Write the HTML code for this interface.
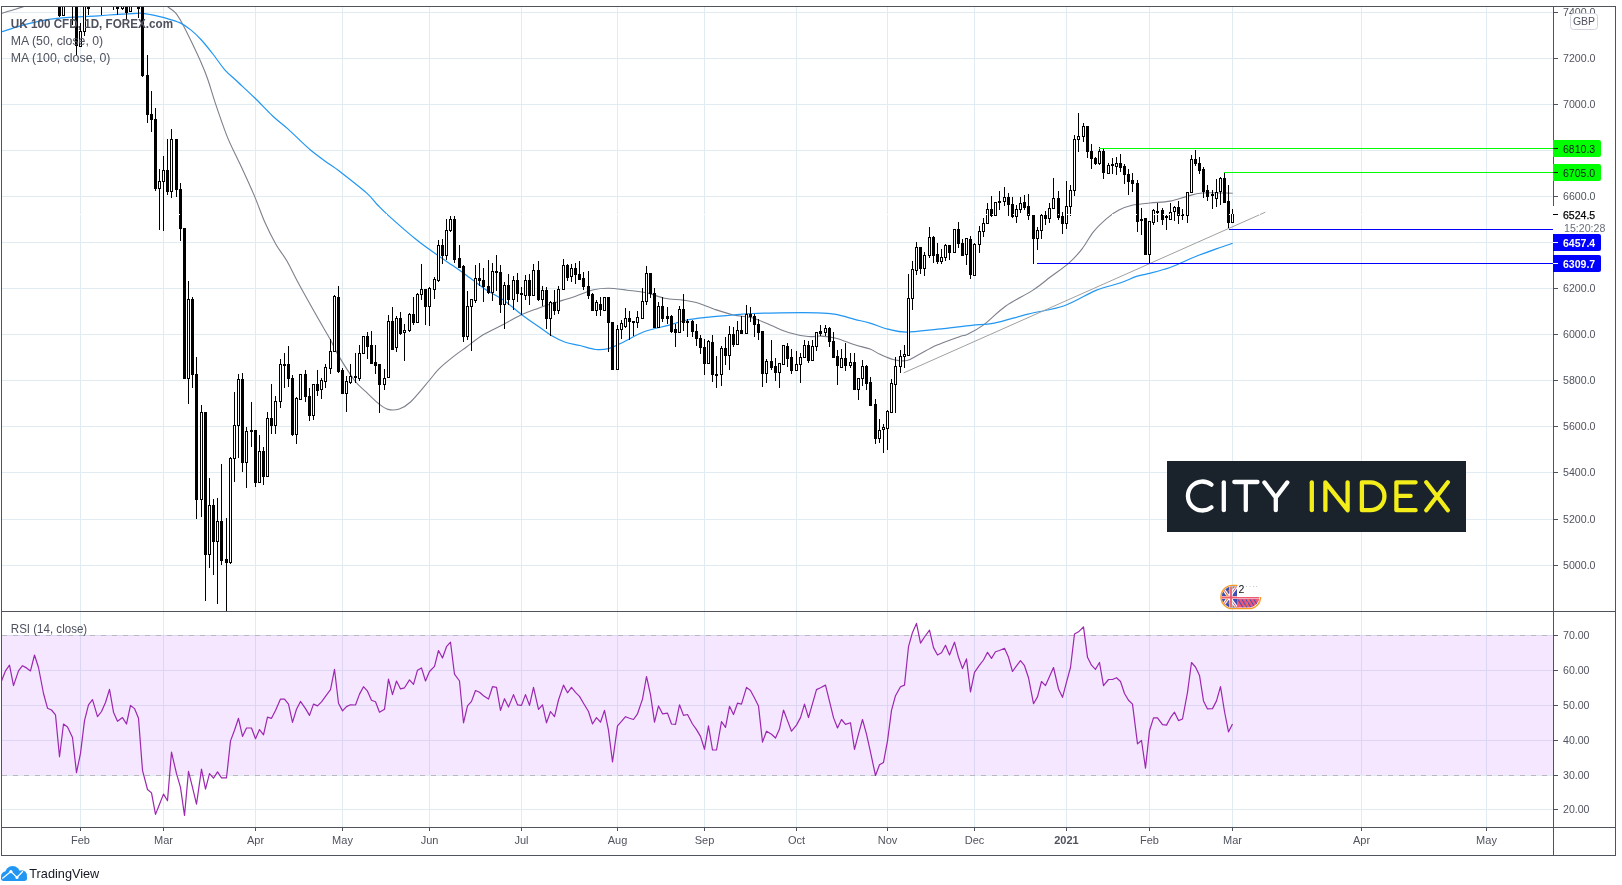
<!DOCTYPE html>
<html><head><meta charset="utf-8"><style>
html,body{margin:0;padding:0;background:#fff;width:1622px;height:885px;overflow:hidden;}
body{position:relative;font-family:"Liberation Sans", sans-serif;}
svg text{will-change:transform;}
</style></head><body>
<svg width="1622" height="885" viewBox="0 0 1622 885" style="position:absolute;left:0;top:0"><defs><clipPath id="mainclip"><rect x="2" y="7" width="1551" height="604"/></clipPath><clipPath id="rsiclip"><rect x="2" y="612" width="1551" height="215"/></clipPath></defs><rect x="0" y="0" width="1622" height="885" fill="#ffffff" /><g shape-rendering="crispEdges"><rect x="2" y="12" width="1551" height="1" fill="#e1ecf2" /><rect x="2" y="58" width="1551" height="1" fill="#e1ecf2" /><rect x="2" y="104" width="1551" height="1" fill="#e1ecf2" /><rect x="2" y="150" width="1551" height="1" fill="#e1ecf2" /><rect x="2" y="196" width="1551" height="1" fill="#e1ecf2" /><rect x="2" y="242" width="1551" height="1" fill="#e1ecf2" /><rect x="2" y="288" width="1551" height="1" fill="#e1ecf2" /><rect x="2" y="334" width="1551" height="1" fill="#e1ecf2" /><rect x="2" y="380" width="1551" height="1" fill="#e1ecf2" /><rect x="2" y="426" width="1551" height="1" fill="#e1ecf2" /><rect x="2" y="472" width="1551" height="1" fill="#e1ecf2" /><rect x="2" y="519" width="1551" height="1" fill="#e1ecf2" /><rect x="2" y="565" width="1551" height="1" fill="#e1ecf2" /><rect x="80" y="7" width="1" height="604" fill="#e1ecf2" /><rect x="163" y="7" width="1" height="604" fill="#e1ecf2" /><rect x="255" y="7" width="1" height="604" fill="#e1ecf2" /><rect x="342" y="7" width="1" height="604" fill="#e1ecf2" /><rect x="429" y="7" width="1" height="604" fill="#e1ecf2" /><rect x="521" y="7" width="1" height="604" fill="#e1ecf2" /><rect x="617" y="7" width="1" height="604" fill="#e1ecf2" /><rect x="704" y="7" width="1" height="604" fill="#e1ecf2" /><rect x="796" y="7" width="1" height="604" fill="#e1ecf2" /><rect x="887" y="7" width="1" height="604" fill="#e1ecf2" /><rect x="974" y="7" width="1" height="604" fill="#e1ecf2" /><rect x="1066" y="7" width="1" height="604" fill="#e1ecf2" /><rect x="1149" y="7" width="1" height="604" fill="#e1ecf2" /><rect x="1232" y="7" width="1" height="604" fill="#e1ecf2" /><rect x="1361" y="7" width="1" height="604" fill="#e1ecf2" /><rect x="1486" y="7" width="1" height="604" fill="#e1ecf2" /><rect x="80" y="612" width="1" height="215" fill="#e1ecf2" /><rect x="163" y="612" width="1" height="215" fill="#e1ecf2" /><rect x="255" y="612" width="1" height="215" fill="#e1ecf2" /><rect x="342" y="612" width="1" height="215" fill="#e1ecf2" /><rect x="429" y="612" width="1" height="215" fill="#e1ecf2" /><rect x="521" y="612" width="1" height="215" fill="#e1ecf2" /><rect x="617" y="612" width="1" height="215" fill="#e1ecf2" /><rect x="704" y="612" width="1" height="215" fill="#e1ecf2" /><rect x="796" y="612" width="1" height="215" fill="#e1ecf2" /><rect x="887" y="612" width="1" height="215" fill="#e1ecf2" /><rect x="974" y="612" width="1" height="215" fill="#e1ecf2" /><rect x="1066" y="612" width="1" height="215" fill="#e1ecf2" /><rect x="1149" y="612" width="1" height="215" fill="#e1ecf2" /><rect x="1232" y="612" width="1" height="215" fill="#e1ecf2" /><rect x="1361" y="612" width="1" height="215" fill="#e1ecf2" /><rect x="1486" y="612" width="1" height="215" fill="#e1ecf2" /><rect x="2" y="635" width="1551" height="1" fill="#e1ecf2" /><rect x="2" y="670" width="1551" height="1" fill="#e1ecf2" /><rect x="2" y="705" width="1551" height="1" fill="#e1ecf2" /><rect x="2" y="740" width="1551" height="1" fill="#e1ecf2" /><rect x="2" y="775" width="1551" height="1" fill="#e1ecf2" /><rect x="2" y="809" width="1551" height="1" fill="#e1ecf2" /><rect x="2" y="635" width="1551" height="140" fill="rgba(153,21,255,0.1)" /></g><line x1="2" y1="635.5" x2="1553" y2="635.5" stroke="#bab7bf" stroke-width="1" stroke-dasharray="5 6" stroke-dashoffset="-0.2" shape-rendering="crispEdges"/><line x1="2" y1="775.5" x2="1553" y2="775.5" stroke="#bab7bf" stroke-width="1" stroke-dasharray="5 6" stroke-dashoffset="-0.2" shape-rendering="crispEdges"/><g clip-path="url(#mainclip)" fill="none"><path d="M0.00,14.50 C0.33,14.30 0.00,14.02 2.00,13.30 C4.00,12.58 8.55,11.27 12.00,10.20 C15.45,9.13 20.03,7.77 22.70,6.90 C25.37,6.03 27.12,5.32 28.00,5.00" stroke="#7d808b" stroke-width="1.1"/><path d="M164.00,5.00 C164.57,5.27 165.52,5.32 167.40,6.60 C169.28,7.88 172.80,9.85 175.30,12.70 C177.80,15.55 179.77,18.97 182.40,23.70 C185.03,28.43 187.93,34.50 191.10,41.10 C194.27,47.70 198.58,56.82 201.40,63.30 C204.22,69.78 205.67,73.32 208.00,80.00 C210.33,86.68 212.30,94.22 215.40,103.40 C218.50,112.58 223.18,126.40 226.60,135.10 C230.02,143.80 233.58,150.62 235.90,155.60 C238.22,160.58 237.43,158.33 240.50,165.00 C243.57,171.67 250.20,185.97 254.30,195.60 C258.40,205.23 261.48,214.65 265.10,222.80 C268.72,230.95 272.38,238.17 276.00,244.50 C279.62,250.83 283.03,254.28 286.80,260.80 C290.57,267.32 293.52,274.22 298.60,283.60 C303.68,292.98 312.02,307.78 317.30,317.10 C322.58,326.42 326.88,333.28 330.30,339.50 C333.72,345.72 333.75,347.57 337.80,354.40 C341.85,361.23 349.93,374.28 354.60,380.50 C359.27,386.72 361.77,387.82 365.80,391.70 C369.83,395.58 375.08,400.85 378.80,403.80 C382.52,406.75 384.68,408.55 388.10,409.40 C391.52,410.25 395.57,410.13 399.30,408.90 C403.03,407.67 405.52,406.73 410.50,402.00 C415.48,397.27 424.53,385.95 429.20,380.50 C433.87,375.05 434.78,373.03 438.50,369.30 C442.22,365.57 446.83,361.82 451.50,358.10 C456.17,354.38 461.22,350.88 466.50,347.00 C471.78,343.12 476.98,338.60 483.20,334.80 C489.42,331.00 497.27,327.62 503.80,324.20 C510.33,320.78 517.12,316.78 522.40,314.30 C527.68,311.82 530.83,311.00 535.50,309.30 C540.17,307.60 543.82,306.25 550.40,304.10 C556.98,301.95 567.80,298.78 575.00,296.40 C582.20,294.02 588.00,291.15 593.60,289.80 C599.20,288.45 603.00,288.23 608.60,288.30 C614.20,288.37 620.98,289.48 627.20,290.20 C633.42,290.92 639.68,291.27 645.90,292.60 C652.12,293.93 658.30,296.95 664.50,298.20 C670.70,299.45 677.82,299.38 683.10,300.10 C688.38,300.82 690.92,300.95 696.20,302.50 C701.48,304.05 708.58,307.32 714.80,309.40 C721.02,311.48 727.28,313.60 733.50,315.00 C739.72,316.40 745.88,316.08 752.10,317.80 C758.32,319.52 764.58,322.82 770.80,325.30 C777.02,327.78 783.18,330.83 789.40,332.70 C795.62,334.57 802.82,335.93 808.10,336.50 C813.38,337.07 816.45,335.80 821.10,336.10 C825.75,336.40 830.40,336.85 836.00,338.30 C841.60,339.75 849.03,343.00 854.70,344.80 C860.37,346.60 865.78,347.52 870.00,349.10 C874.22,350.68 875.98,352.53 880.00,354.30 C884.02,356.07 889.58,358.67 894.10,359.70 C898.62,360.73 902.87,361.40 907.10,360.50 C911.33,359.60 914.60,356.83 919.50,354.30 C924.40,351.77 929.75,348.27 936.50,345.30 C943.25,342.33 954.90,338.32 960.00,336.50 C965.10,334.68 963.28,336.25 967.10,334.40 C970.92,332.55 976.50,330.10 982.90,325.40 C989.30,320.70 997.22,312.03 1005.50,306.20 C1013.78,300.37 1025.07,295.30 1032.60,290.40 C1040.13,285.50 1044.67,281.33 1050.70,276.80 C1056.73,272.27 1063.53,267.90 1068.80,263.20 C1074.07,258.50 1078.17,253.87 1082.30,248.60 C1086.43,243.33 1089.45,236.68 1093.60,231.60 C1097.75,226.52 1103.05,221.67 1107.20,218.10 C1111.35,214.53 1114.35,212.33 1118.50,210.20 C1122.65,208.07 1126.85,206.50 1132.10,205.30 C1137.35,204.10 1143.68,203.70 1150.00,203.00 C1156.32,202.30 1163.83,202.20 1170.00,201.10 C1176.17,200.00 1181.67,197.75 1187.00,196.40 C1192.33,195.05 1194.38,193.53 1202.00,193.00 C1209.62,192.47 1227.58,193.17 1232.70,193.20" stroke="#7d808b" stroke-width="1.1"/><path d="M0.00,32.00 C0.33,31.93 -1.28,32.58 2.00,31.60 C5.28,30.62 13.45,27.83 19.70,26.10 C25.95,24.37 32.92,22.52 39.50,21.20 C46.08,19.88 52.63,18.93 59.20,18.20 C65.77,17.47 72.33,17.20 78.90,16.80 C85.47,16.40 92.02,16.22 98.60,15.80 C105.18,15.38 111.98,14.72 118.40,14.30 C124.82,13.88 133.00,13.47 137.10,13.30 C141.20,13.13 140.85,13.10 143.00,13.30 C145.15,13.50 146.20,13.68 150.00,14.50 C153.80,15.32 160.78,16.80 165.80,18.20 C170.82,19.60 175.88,20.92 180.10,22.90 C184.32,24.88 187.55,27.25 191.10,30.10 C194.65,32.95 197.70,35.93 201.40,40.00 C205.10,44.07 209.40,49.53 213.30,54.50 C217.20,59.47 220.72,65.22 224.80,69.80 C228.88,74.38 232.83,77.33 237.80,82.00 C242.77,86.67 248.70,92.05 254.60,97.80 C260.50,103.55 267.62,111.28 273.20,116.50 C278.78,121.72 281.88,123.52 288.10,129.10 C294.32,134.68 303.65,144.18 310.50,150.00 C317.35,155.82 324.53,160.58 329.20,164.00 C333.87,167.42 332.28,165.68 338.50,170.50 C344.72,175.32 359.98,187.15 366.50,192.90 C373.02,198.65 373.93,201.22 377.60,205.00 C381.27,208.78 382.02,209.80 388.50,215.60 C394.98,221.40 408.42,233.27 416.50,239.80 C424.58,246.33 431.10,250.60 437.00,254.80 C442.90,259.00 447.62,262.07 451.90,265.00 C456.18,267.93 457.17,268.37 462.70,272.40 C468.23,276.43 478.25,284.55 485.10,289.20 C491.95,293.85 497.58,295.95 503.80,300.30 C510.02,304.65 516.20,310.63 522.40,315.30 C528.60,319.97 536.03,324.83 541.00,328.30 C545.97,331.77 548.15,333.77 552.20,336.10 C556.25,338.43 560.67,340.73 565.30,342.30 C569.93,343.87 574.97,344.30 580.00,345.50 C585.03,346.70 590.73,348.98 595.50,349.50 C600.27,350.02 604.25,349.68 608.60,348.60 C612.95,347.52 615.70,345.80 621.60,343.00 C627.50,340.20 636.23,334.75 644.00,331.80 C651.77,328.85 661.05,327.27 668.20,325.30 C675.35,323.33 680.68,321.32 686.90,320.00 C693.12,318.68 697.73,318.23 705.50,317.40 C713.27,316.57 725.73,315.65 733.50,315.00 C741.27,314.35 744.33,313.87 752.10,313.50 C759.87,313.13 769.22,312.92 780.10,312.80 C790.98,312.68 808.08,312.53 817.40,312.80 C826.72,313.07 829.78,313.32 836.00,314.40 C842.22,315.48 849.03,317.85 854.70,319.30 C860.37,320.75 864.43,321.45 870.00,323.10 C875.57,324.75 882.08,327.70 888.10,329.20 C894.12,330.70 897.82,332.10 906.10,332.10 C914.38,332.10 926.88,330.32 937.80,329.20 C948.72,328.08 962.20,326.42 971.60,325.40 C981.00,324.38 984.78,324.98 994.20,323.10 C1003.62,321.22 1016.42,317.00 1028.10,314.10 C1039.78,311.20 1053.00,309.65 1064.30,305.70 C1075.60,301.75 1086.62,294.18 1095.90,290.40 C1105.18,286.62 1113.23,285.33 1120.00,283.00 C1126.77,280.67 1131.83,277.95 1136.50,276.40 C1141.17,274.85 1142.42,275.18 1148.00,273.70 C1153.58,272.22 1162.25,270.28 1170.00,267.50 C1177.75,264.72 1186.68,260.15 1194.50,257.00 C1202.32,253.85 1210.53,250.88 1216.90,248.60 C1223.27,246.32 1230.07,244.18 1232.70,243.30" stroke="#2196f3" stroke-width="1.2"/></g><g clip-path="url(#mainclip)" shape-rendering="crispEdges"><rect x="59" y="15" width="1" height="2" fill="#000" /><rect x="58" y="0" width="3" height="16" fill="#000" /><rect x="62" y="0" width="3" height="16" fill="#000" /><rect x="63" y="1" width="1" height="14" fill="#fff" /><rect x="72" y="3" width="1" height="22" fill="#000" /><rect x="71" y="0" width="3" height="4" fill="#000" /><rect x="76" y="45" width="1" height="10" fill="#000" /><rect x="75" y="0" width="3" height="46" fill="#000" /><rect x="80" y="23" width="1" height="8" fill="#000" /><rect x="80" y="46" width="1" height="1" fill="#000" /><rect x="79" y="31" width="3" height="16" fill="#000" /><rect x="80" y="32" width="1" height="14" fill="#fff" /><rect x="84" y="31" width="1" height="5" fill="#000" /><rect x="83" y="0" width="3" height="32" fill="#000" /><rect x="84" y="1" width="1" height="30" fill="#fff" /><rect x="88" y="8" width="1" height="7" fill="#000" /><rect x="87" y="0" width="3" height="9" fill="#000" /><rect x="101" y="3" width="1" height="12" fill="#000" /><rect x="100" y="0" width="3" height="4" fill="#000" /><rect x="101" y="1" width="1" height="2" fill="#fff" /><rect x="113" y="3" width="1" height="7" fill="#000" /><rect x="112" y="0" width="3" height="4" fill="#000" /><rect x="113" y="1" width="1" height="2" fill="#fff" /><rect x="117" y="8" width="1" height="7" fill="#000" /><rect x="116" y="0" width="3" height="9" fill="#000" /><rect x="122" y="8" width="1" height="2" fill="#000" /><rect x="121" y="0" width="3" height="9" fill="#000" /><rect x="122" y="1" width="1" height="7" fill="#fff" /><rect x="126" y="12" width="1" height="7" fill="#000" /><rect x="125" y="0" width="3" height="13" fill="#000" /><rect x="129" y="0" width="3" height="12" fill="#000" /><rect x="130" y="1" width="1" height="10" fill="#fff" /><rect x="138" y="8" width="1" height="10" fill="#000" /><rect x="137" y="0" width="3" height="9" fill="#000" /><rect x="142" y="75" width="1" height="2" fill="#000" /><rect x="141" y="0" width="3" height="76" fill="#000" /><rect x="147" y="55" width="1" height="20" fill="#000" /><rect x="147" y="114" width="1" height="9" fill="#000" /><rect x="146" y="75" width="3" height="40" fill="#000" /><rect x="151" y="91" width="1" height="23" fill="#000" /><rect x="151" y="119" width="1" height="13" fill="#000" /><rect x="150" y="114" width="3" height="6" fill="#000" /><rect x="155" y="108" width="1" height="11" fill="#000" /><rect x="155" y="188" width="1" height="3" fill="#000" /><rect x="154" y="119" width="3" height="70" fill="#000" /><rect x="159" y="169" width="1" height="12" fill="#000" /><rect x="159" y="188" width="1" height="42" fill="#000" /><rect x="158" y="181" width="3" height="8" fill="#000" /><rect x="159" y="182" width="1" height="6" fill="#fff" /><rect x="163" y="156" width="1" height="14" fill="#000" /><rect x="163" y="181" width="1" height="50" fill="#000" /><rect x="162" y="170" width="3" height="12" fill="#000" /><rect x="163" y="171" width="1" height="10" fill="#fff" /><rect x="167" y="139" width="1" height="31" fill="#000" /><rect x="167" y="191" width="1" height="4" fill="#000" /><rect x="166" y="170" width="3" height="22" fill="#000" /><rect x="171" y="129" width="1" height="10" fill="#000" /><rect x="171" y="191" width="1" height="7" fill="#000" /><rect x="170" y="139" width="3" height="53" fill="#000" /><rect x="171" y="140" width="1" height="51" fill="#fff" /><rect x="176" y="189" width="1" height="8" fill="#000" /><rect x="175" y="139" width="3" height="51" fill="#000" /><rect x="180" y="183" width="1" height="6" fill="#000" /><rect x="180" y="228" width="1" height="13" fill="#000" /><rect x="179" y="189" width="3" height="40" fill="#000" /><rect x="184" y="378" width="1" height="1" fill="#000" /><rect x="183" y="228" width="3" height="151" fill="#000" /><rect x="188" y="281" width="1" height="18" fill="#000" /><rect x="188" y="378" width="1" height="26" fill="#000" /><rect x="187" y="299" width="3" height="80" fill="#000" /><rect x="188" y="300" width="1" height="78" fill="#fff" /><rect x="192" y="297" width="1" height="2" fill="#000" /><rect x="192" y="374" width="1" height="14" fill="#000" /><rect x="191" y="299" width="3" height="76" fill="#000" /><rect x="196" y="357" width="1" height="17" fill="#000" /><rect x="196" y="499" width="1" height="20" fill="#000" /><rect x="195" y="374" width="3" height="126" fill="#000" /><rect x="201" y="405" width="1" height="7" fill="#000" /><rect x="201" y="499" width="1" height="18" fill="#000" /><rect x="200" y="412" width="3" height="88" fill="#000" /><rect x="201" y="413" width="1" height="86" fill="#fff" /><rect x="205" y="554" width="1" height="47" fill="#000" /><rect x="204" y="412" width="3" height="143" fill="#000" /><rect x="209" y="478" width="1" height="27" fill="#000" /><rect x="209" y="554" width="1" height="14" fill="#000" /><rect x="208" y="505" width="3" height="50" fill="#000" /><rect x="209" y="506" width="1" height="48" fill="#fff" /><rect x="213" y="499" width="1" height="6" fill="#000" /><rect x="213" y="541" width="1" height="34" fill="#000" /><rect x="212" y="505" width="3" height="37" fill="#000" /><rect x="217" y="498" width="1" height="23" fill="#000" /><rect x="217" y="541" width="1" height="63" fill="#000" /><rect x="216" y="521" width="3" height="21" fill="#000" /><rect x="217" y="522" width="1" height="19" fill="#fff" /><rect x="221" y="464" width="1" height="57" fill="#000" /><rect x="221" y="560" width="1" height="5" fill="#000" /><rect x="220" y="521" width="3" height="40" fill="#000" /><rect x="226" y="518" width="1" height="41" fill="#000" /><rect x="226" y="562" width="1" height="49" fill="#000" /><rect x="225" y="559" width="3" height="4" fill="#000" /><rect x="230" y="457" width="1" height="1" fill="#000" /><rect x="230" y="562" width="1" height="2" fill="#000" /><rect x="229" y="458" width="3" height="105" fill="#000" /><rect x="230" y="459" width="1" height="103" fill="#fff" /><rect x="234" y="392" width="1" height="33" fill="#000" /><rect x="234" y="458" width="1" height="24" fill="#000" /><rect x="233" y="425" width="3" height="34" fill="#000" /><rect x="234" y="426" width="1" height="32" fill="#fff" /><rect x="238" y="374" width="1" height="5" fill="#000" /><rect x="238" y="425" width="1" height="33" fill="#000" /><rect x="237" y="379" width="3" height="47" fill="#000" /><rect x="238" y="380" width="1" height="45" fill="#fff" /><rect x="242" y="373" width="1" height="6" fill="#000" /><rect x="242" y="462" width="1" height="10" fill="#000" /><rect x="241" y="379" width="3" height="84" fill="#000" /><rect x="246" y="427" width="1" height="4" fill="#000" /><rect x="246" y="462" width="1" height="26" fill="#000" /><rect x="245" y="431" width="3" height="32" fill="#000" /><rect x="246" y="432" width="1" height="30" fill="#fff" /><rect x="251" y="402" width="1" height="28" fill="#000" /><rect x="251" y="431" width="1" height="16" fill="#000" /><rect x="250" y="430" width="3" height="2" fill="#000" /><rect x="255" y="482" width="1" height="5" fill="#000" /><rect x="254" y="430" width="3" height="53" fill="#000" /><rect x="259" y="435" width="1" height="16" fill="#000" /><rect x="258" y="451" width="3" height="32" fill="#000" /><rect x="259" y="452" width="1" height="30" fill="#fff" /><rect x="263" y="447" width="1" height="4" fill="#000" /><rect x="263" y="476" width="1" height="9" fill="#000" /><rect x="262" y="451" width="3" height="26" fill="#000" /><rect x="267" y="412" width="1" height="6" fill="#000" /><rect x="266" y="418" width="3" height="59" fill="#000" /><rect x="267" y="419" width="1" height="57" fill="#fff" /><rect x="271" y="384" width="1" height="34" fill="#000" /><rect x="271" y="425" width="1" height="9" fill="#000" /><rect x="270" y="418" width="3" height="8" fill="#000" /><rect x="275" y="396" width="1" height="5" fill="#000" /><rect x="275" y="425" width="1" height="9" fill="#000" /><rect x="274" y="401" width="3" height="25" fill="#000" /><rect x="275" y="402" width="1" height="23" fill="#fff" /><rect x="280" y="359" width="1" height="5" fill="#000" /><rect x="280" y="401" width="1" height="7" fill="#000" /><rect x="279" y="364" width="3" height="38" fill="#000" /><rect x="280" y="365" width="1" height="36" fill="#fff" /><rect x="284" y="353" width="1" height="11" fill="#000" /><rect x="284" y="365" width="1" height="23" fill="#000" /><rect x="283" y="364" width="3" height="2" fill="#000" /><rect x="288" y="346" width="1" height="18" fill="#000" /><rect x="288" y="378" width="1" height="9" fill="#000" /><rect x="287" y="364" width="3" height="15" fill="#000" /><rect x="292" y="375" width="1" height="3" fill="#000" /><rect x="292" y="434" width="1" height="2" fill="#000" /><rect x="291" y="378" width="3" height="57" fill="#000" /><rect x="296" y="397" width="1" height="1" fill="#000" /><rect x="296" y="434" width="1" height="10" fill="#000" /><rect x="295" y="398" width="3" height="37" fill="#000" /><rect x="296" y="399" width="1" height="35" fill="#fff" /><rect x="299" y="374" width="3" height="26" fill="#000" /><rect x="300" y="375" width="1" height="24" fill="#fff" /><rect x="305" y="370" width="1" height="4" fill="#000" /><rect x="305" y="396" width="1" height="6" fill="#000" /><rect x="304" y="374" width="3" height="23" fill="#000" /><rect x="309" y="388" width="1" height="8" fill="#000" /><rect x="309" y="415" width="1" height="6" fill="#000" /><rect x="308" y="396" width="3" height="20" fill="#000" /><rect x="313" y="415" width="1" height="5" fill="#000" /><rect x="312" y="384" width="3" height="32" fill="#000" /><rect x="313" y="385" width="1" height="30" fill="#fff" /><rect x="317" y="370" width="1" height="14" fill="#000" /><rect x="317" y="390" width="1" height="6" fill="#000" /><rect x="316" y="384" width="3" height="7" fill="#000" /><rect x="321" y="378" width="1" height="2" fill="#000" /><rect x="321" y="389" width="1" height="10" fill="#000" /><rect x="320" y="380" width="3" height="10" fill="#000" /><rect x="321" y="381" width="1" height="8" fill="#fff" /><rect x="325" y="364" width="1" height="3" fill="#000" /><rect x="325" y="381" width="1" height="7" fill="#000" /><rect x="324" y="367" width="3" height="15" fill="#000" /><rect x="325" y="368" width="1" height="13" fill="#fff" /><rect x="330" y="339" width="1" height="12" fill="#000" /><rect x="330" y="368" width="1" height="6" fill="#000" /><rect x="329" y="351" width="3" height="18" fill="#000" /><rect x="330" y="352" width="1" height="16" fill="#fff" /><rect x="334" y="295" width="1" height="1" fill="#000" /><rect x="333" y="296" width="3" height="56" fill="#000" /><rect x="334" y="297" width="1" height="54" fill="#fff" /><rect x="338" y="286" width="1" height="11" fill="#000" /><rect x="338" y="371" width="1" height="2" fill="#000" /><rect x="337" y="297" width="3" height="75" fill="#000" /><rect x="342" y="368" width="1" height="2" fill="#000" /><rect x="342" y="393" width="1" height="1" fill="#000" /><rect x="341" y="370" width="3" height="24" fill="#000" /><rect x="346" y="376" width="1" height="5" fill="#000" /><rect x="346" y="393" width="1" height="19" fill="#000" /><rect x="345" y="381" width="3" height="13" fill="#000" /><rect x="346" y="382" width="1" height="11" fill="#fff" /><rect x="350" y="364" width="1" height="12" fill="#000" /><rect x="350" y="382" width="1" height="2" fill="#000" /><rect x="349" y="376" width="3" height="7" fill="#000" /><rect x="350" y="377" width="1" height="5" fill="#fff" /><rect x="355" y="353" width="1" height="23" fill="#000" /><rect x="355" y="377" width="1" height="6" fill="#000" /><rect x="354" y="376" width="3" height="2" fill="#000" /><rect x="359" y="345" width="1" height="8" fill="#000" /><rect x="359" y="378" width="1" height="3" fill="#000" /><rect x="358" y="353" width="3" height="26" fill="#000" /><rect x="359" y="354" width="1" height="24" fill="#fff" /><rect x="363" y="353" width="1" height="1" fill="#000" /><rect x="362" y="336" width="3" height="18" fill="#000" /><rect x="363" y="337" width="1" height="16" fill="#fff" /><rect x="367" y="332" width="1" height="4" fill="#000" /><rect x="367" y="346" width="1" height="13" fill="#000" /><rect x="366" y="336" width="3" height="11" fill="#000" /><rect x="371" y="331" width="1" height="14" fill="#000" /><rect x="370" y="345" width="3" height="19" fill="#000" /><rect x="375" y="345" width="1" height="17" fill="#000" /><rect x="375" y="365" width="1" height="9" fill="#000" /><rect x="374" y="362" width="3" height="4" fill="#000" /><rect x="379" y="384" width="1" height="29" fill="#000" /><rect x="378" y="364" width="3" height="21" fill="#000" /><rect x="384" y="369" width="1" height="9" fill="#000" /><rect x="384" y="384" width="1" height="6" fill="#000" /><rect x="383" y="378" width="3" height="7" fill="#000" /><rect x="384" y="379" width="1" height="5" fill="#fff" /><rect x="388" y="315" width="1" height="6" fill="#000" /><rect x="387" y="321" width="3" height="57" fill="#000" /><rect x="388" y="322" width="1" height="55" fill="#fff" /><rect x="392" y="307" width="1" height="14" fill="#000" /><rect x="392" y="349" width="1" height="1" fill="#000" /><rect x="391" y="321" width="3" height="29" fill="#000" /><rect x="396" y="316" width="1" height="2" fill="#000" /><rect x="396" y="347" width="1" height="5" fill="#000" /><rect x="395" y="318" width="3" height="30" fill="#000" /><rect x="396" y="319" width="1" height="28" fill="#fff" /><rect x="400" y="312" width="1" height="6" fill="#000" /><rect x="400" y="333" width="1" height="2" fill="#000" /><rect x="399" y="318" width="3" height="16" fill="#000" /><rect x="404" y="324" width="1" height="6" fill="#000" /><rect x="404" y="332" width="1" height="29" fill="#000" /><rect x="403" y="330" width="3" height="3" fill="#000" /><rect x="404" y="331" width="1" height="1" fill="#fff" /><rect x="409" y="313" width="1" height="1" fill="#000" /><rect x="409" y="330" width="1" height="2" fill="#000" /><rect x="408" y="314" width="3" height="17" fill="#000" /><rect x="409" y="315" width="1" height="15" fill="#fff" /><rect x="413" y="297" width="1" height="17" fill="#000" /><rect x="413" y="322" width="1" height="3" fill="#000" /><rect x="412" y="314" width="3" height="9" fill="#000" /><rect x="417" y="293" width="1" height="1" fill="#000" /><rect x="417" y="322" width="1" height="1" fill="#000" /><rect x="416" y="294" width="3" height="29" fill="#000" /><rect x="417" y="295" width="1" height="27" fill="#fff" /><rect x="421" y="264" width="1" height="25" fill="#000" /><rect x="421" y="294" width="1" height="6" fill="#000" /><rect x="420" y="289" width="3" height="6" fill="#000" /><rect x="421" y="290" width="1" height="4" fill="#fff" /><rect x="425" y="306" width="1" height="19" fill="#000" /><rect x="424" y="289" width="3" height="18" fill="#000" /><rect x="429" y="287" width="1" height="1" fill="#000" /><rect x="429" y="306" width="1" height="20" fill="#000" /><rect x="428" y="288" width="3" height="19" fill="#000" /><rect x="429" y="289" width="1" height="17" fill="#fff" /><rect x="434" y="277" width="1" height="2" fill="#000" /><rect x="434" y="289" width="1" height="10" fill="#000" /><rect x="433" y="279" width="3" height="11" fill="#000" /><rect x="434" y="280" width="1" height="9" fill="#fff" /><rect x="438" y="240" width="1" height="5" fill="#000" /><rect x="438" y="280" width="1" height="2" fill="#000" /><rect x="437" y="245" width="3" height="36" fill="#000" /><rect x="438" y="246" width="1" height="34" fill="#fff" /><rect x="442" y="239" width="1" height="6" fill="#000" /><rect x="442" y="255" width="1" height="9" fill="#000" /><rect x="441" y="245" width="3" height="11" fill="#000" /><rect x="446" y="219" width="1" height="11" fill="#000" /><rect x="446" y="255" width="1" height="5" fill="#000" /><rect x="445" y="230" width="3" height="26" fill="#000" /><rect x="446" y="231" width="1" height="24" fill="#fff" /><rect x="450" y="216" width="1" height="3" fill="#000" /><rect x="450" y="230" width="1" height="2" fill="#000" /><rect x="449" y="219" width="3" height="12" fill="#000" /><rect x="450" y="220" width="1" height="10" fill="#fff" /><rect x="454" y="216" width="1" height="3" fill="#000" /><rect x="454" y="259" width="1" height="4" fill="#000" /><rect x="453" y="219" width="3" height="41" fill="#000" /><rect x="459" y="245" width="1" height="13" fill="#000" /><rect x="459" y="267" width="1" height="1" fill="#000" /><rect x="458" y="258" width="3" height="10" fill="#000" /><rect x="463" y="265" width="1" height="1" fill="#000" /><rect x="463" y="336" width="1" height="6" fill="#000" /><rect x="462" y="266" width="3" height="71" fill="#000" /><rect x="467" y="291" width="1" height="15" fill="#000" /><rect x="467" y="336" width="1" height="4" fill="#000" /><rect x="466" y="306" width="3" height="31" fill="#000" /><rect x="467" y="307" width="1" height="29" fill="#fff" /><rect x="471" y="306" width="1" height="45" fill="#000" /><rect x="470" y="299" width="3" height="8" fill="#000" /><rect x="471" y="300" width="1" height="6" fill="#fff" /><rect x="475" y="265" width="1" height="13" fill="#000" /><rect x="475" y="300" width="1" height="3" fill="#000" /><rect x="474" y="278" width="3" height="23" fill="#000" /><rect x="475" y="279" width="1" height="21" fill="#fff" /><rect x="479" y="263" width="1" height="15" fill="#000" /><rect x="479" y="280" width="1" height="6" fill="#000" /><rect x="478" y="278" width="3" height="3" fill="#000" /><rect x="483" y="268" width="1" height="12" fill="#000" /><rect x="483" y="286" width="1" height="16" fill="#000" /><rect x="482" y="280" width="3" height="7" fill="#000" /><rect x="488" y="260" width="1" height="26" fill="#000" /><rect x="488" y="292" width="1" height="2" fill="#000" /><rect x="487" y="286" width="3" height="7" fill="#000" /><rect x="492" y="263" width="1" height="8" fill="#000" /><rect x="492" y="292" width="1" height="9" fill="#000" /><rect x="491" y="271" width="3" height="22" fill="#000" /><rect x="492" y="272" width="1" height="20" fill="#fff" /><rect x="496" y="255" width="1" height="16" fill="#000" /><rect x="496" y="272" width="1" height="19" fill="#000" /><rect x="495" y="271" width="3" height="2" fill="#000" /><rect x="500" y="265" width="1" height="7" fill="#000" /><rect x="500" y="304" width="1" height="9" fill="#000" /><rect x="499" y="272" width="3" height="33" fill="#000" /><rect x="504" y="282" width="1" height="3" fill="#000" /><rect x="504" y="304" width="1" height="25" fill="#000" /><rect x="503" y="285" width="3" height="20" fill="#000" /><rect x="504" y="286" width="1" height="18" fill="#fff" /><rect x="508" y="274" width="1" height="11" fill="#000" /><rect x="508" y="299" width="1" height="6" fill="#000" /><rect x="507" y="285" width="3" height="15" fill="#000" /><rect x="513" y="276" width="1" height="4" fill="#000" /><rect x="513" y="299" width="1" height="11" fill="#000" /><rect x="512" y="280" width="3" height="20" fill="#000" /><rect x="513" y="281" width="1" height="18" fill="#fff" /><rect x="517" y="273" width="1" height="7" fill="#000" /><rect x="517" y="293" width="1" height="9" fill="#000" /><rect x="516" y="280" width="3" height="14" fill="#000" /><rect x="521" y="287" width="1" height="6" fill="#000" /><rect x="521" y="294" width="1" height="21" fill="#000" /><rect x="520" y="293" width="3" height="2" fill="#000" /><rect x="525" y="275" width="1" height="5" fill="#000" /><rect x="525" y="295" width="1" height="5" fill="#000" /><rect x="524" y="280" width="3" height="16" fill="#000" /><rect x="525" y="281" width="1" height="14" fill="#fff" /><rect x="529" y="274" width="1" height="6" fill="#000" /><rect x="529" y="295" width="1" height="10" fill="#000" /><rect x="528" y="280" width="3" height="16" fill="#000" /><rect x="533" y="264" width="1" height="6" fill="#000" /><rect x="532" y="270" width="3" height="26" fill="#000" /><rect x="533" y="271" width="1" height="24" fill="#fff" /><rect x="538" y="261" width="1" height="9" fill="#000" /><rect x="538" y="299" width="1" height="2" fill="#000" /><rect x="537" y="270" width="3" height="30" fill="#000" /><rect x="542" y="286" width="1" height="4" fill="#000" /><rect x="542" y="299" width="1" height="7" fill="#000" /><rect x="541" y="290" width="3" height="10" fill="#000" /><rect x="542" y="291" width="1" height="8" fill="#fff" /><rect x="546" y="287" width="1" height="3" fill="#000" /><rect x="546" y="318" width="1" height="11" fill="#000" /><rect x="545" y="290" width="3" height="29" fill="#000" /><rect x="550" y="301" width="1" height="1" fill="#000" /><rect x="550" y="318" width="1" height="18" fill="#000" /><rect x="549" y="302" width="3" height="17" fill="#000" /><rect x="550" y="303" width="1" height="15" fill="#fff" /><rect x="554" y="290" width="1" height="12" fill="#000" /><rect x="554" y="310" width="1" height="5" fill="#000" /><rect x="553" y="302" width="3" height="9" fill="#000" /><rect x="558" y="286" width="1" height="3" fill="#000" /><rect x="558" y="310" width="1" height="4" fill="#000" /><rect x="557" y="289" width="3" height="22" fill="#000" /><rect x="558" y="290" width="1" height="20" fill="#fff" /><rect x="563" y="259" width="1" height="6" fill="#000" /><rect x="563" y="289" width="1" height="1" fill="#000" /><rect x="562" y="265" width="3" height="25" fill="#000" /><rect x="563" y="266" width="1" height="23" fill="#fff" /><rect x="567" y="264" width="1" height="1" fill="#000" /><rect x="567" y="277" width="1" height="4" fill="#000" /><rect x="566" y="265" width="3" height="13" fill="#000" /><rect x="571" y="264" width="1" height="4" fill="#000" /><rect x="571" y="276" width="1" height="6" fill="#000" /><rect x="570" y="268" width="3" height="9" fill="#000" /><rect x="571" y="269" width="1" height="7" fill="#fff" /><rect x="575" y="263" width="1" height="5" fill="#000" /><rect x="575" y="274" width="1" height="10" fill="#000" /><rect x="574" y="268" width="3" height="7" fill="#000" /><rect x="579" y="261" width="1" height="13" fill="#000" /><rect x="579" y="279" width="1" height="1" fill="#000" /><rect x="578" y="274" width="3" height="6" fill="#000" /><rect x="583" y="272" width="1" height="6" fill="#000" /><rect x="583" y="286" width="1" height="4" fill="#000" /><rect x="582" y="278" width="3" height="9" fill="#000" /><rect x="588" y="271" width="1" height="15" fill="#000" /><rect x="588" y="295" width="1" height="4" fill="#000" /><rect x="587" y="286" width="3" height="10" fill="#000" /><rect x="592" y="293" width="1" height="1" fill="#000" /><rect x="592" y="310" width="1" height="1" fill="#000" /><rect x="591" y="294" width="3" height="17" fill="#000" /><rect x="596" y="300" width="1" height="2" fill="#000" /><rect x="596" y="310" width="1" height="6" fill="#000" /><rect x="595" y="302" width="3" height="9" fill="#000" /><rect x="596" y="303" width="1" height="7" fill="#fff" /><rect x="600" y="297" width="1" height="7" fill="#000" /><rect x="600" y="309" width="1" height="7" fill="#000" /><rect x="599" y="304" width="3" height="6" fill="#000" /><rect x="603" y="297" width="3" height="14" fill="#000" /><rect x="604" y="298" width="1" height="12" fill="#fff" /><rect x="608" y="322" width="1" height="30" fill="#000" /><rect x="607" y="297" width="3" height="26" fill="#000" /><rect x="611" y="322" width="3" height="48" fill="#000" /><rect x="617" y="325" width="1" height="4" fill="#000" /><rect x="616" y="329" width="3" height="41" fill="#000" /><rect x="617" y="330" width="1" height="39" fill="#fff" /><rect x="621" y="320" width="1" height="3" fill="#000" /><rect x="621" y="329" width="1" height="10" fill="#000" /><rect x="620" y="323" width="3" height="7" fill="#000" /><rect x="621" y="324" width="1" height="5" fill="#fff" /><rect x="625" y="308" width="1" height="10" fill="#000" /><rect x="625" y="326" width="1" height="2" fill="#000" /><rect x="624" y="318" width="3" height="9" fill="#000" /><rect x="625" y="319" width="1" height="7" fill="#fff" /><rect x="629" y="311" width="1" height="7" fill="#000" /><rect x="629" y="321" width="1" height="19" fill="#000" /><rect x="628" y="318" width="3" height="4" fill="#000" /><rect x="633" y="322" width="1" height="14" fill="#000" /><rect x="632" y="321" width="3" height="2" fill="#000" /><rect x="637" y="311" width="1" height="6" fill="#000" /><rect x="637" y="322" width="1" height="6" fill="#000" /><rect x="636" y="317" width="3" height="6" fill="#000" /><rect x="637" y="318" width="1" height="4" fill="#fff" /><rect x="642" y="288" width="1" height="13" fill="#000" /><rect x="642" y="318" width="1" height="1" fill="#000" /><rect x="641" y="301" width="3" height="18" fill="#000" /><rect x="642" y="302" width="1" height="16" fill="#fff" /><rect x="646" y="266" width="1" height="7" fill="#000" /><rect x="646" y="301" width="1" height="4" fill="#000" /><rect x="645" y="273" width="3" height="29" fill="#000" /><rect x="646" y="274" width="1" height="27" fill="#fff" /><rect x="650" y="293" width="1" height="5" fill="#000" /><rect x="649" y="273" width="3" height="21" fill="#000" /><rect x="654" y="288" width="1" height="5" fill="#000" /><rect x="653" y="293" width="3" height="35" fill="#000" /><rect x="658" y="302" width="1" height="4" fill="#000" /><rect x="657" y="306" width="3" height="22" fill="#000" /><rect x="658" y="307" width="1" height="20" fill="#fff" /><rect x="662" y="297" width="1" height="9" fill="#000" /><rect x="662" y="318" width="1" height="4" fill="#000" /><rect x="661" y="306" width="3" height="13" fill="#000" /><rect x="667" y="307" width="1" height="9" fill="#000" /><rect x="667" y="318" width="1" height="6" fill="#000" /><rect x="666" y="316" width="3" height="3" fill="#000" /><rect x="671" y="315" width="1" height="1" fill="#000" /><rect x="671" y="331" width="1" height="2" fill="#000" /><rect x="670" y="316" width="3" height="16" fill="#000" /><rect x="675" y="324" width="1" height="5" fill="#000" /><rect x="675" y="332" width="1" height="15" fill="#000" /><rect x="674" y="329" width="3" height="4" fill="#000" /><rect x="679" y="306" width="1" height="3" fill="#000" /><rect x="679" y="332" width="1" height="1" fill="#000" /><rect x="678" y="309" width="3" height="24" fill="#000" /><rect x="679" y="310" width="1" height="22" fill="#fff" /><rect x="683" y="294" width="1" height="15" fill="#000" /><rect x="683" y="322" width="1" height="9" fill="#000" /><rect x="682" y="309" width="3" height="14" fill="#000" /><rect x="687" y="319" width="1" height="2" fill="#000" /><rect x="687" y="322" width="1" height="15" fill="#000" /><rect x="686" y="321" width="3" height="2" fill="#000" /><rect x="692" y="320" width="1" height="1" fill="#000" /><rect x="692" y="331" width="1" height="6" fill="#000" /><rect x="691" y="321" width="3" height="11" fill="#000" /><rect x="696" y="324" width="1" height="7" fill="#000" /><rect x="696" y="338" width="1" height="8" fill="#000" /><rect x="695" y="331" width="3" height="8" fill="#000" /><rect x="700" y="335" width="1" height="3" fill="#000" /><rect x="700" y="347" width="1" height="7" fill="#000" /><rect x="699" y="338" width="3" height="10" fill="#000" /><rect x="704" y="339" width="1" height="8" fill="#000" /><rect x="704" y="363" width="1" height="12" fill="#000" /><rect x="703" y="347" width="3" height="17" fill="#000" /><rect x="708" y="340" width="1" height="1" fill="#000" /><rect x="708" y="363" width="1" height="1" fill="#000" /><rect x="707" y="341" width="3" height="23" fill="#000" /><rect x="708" y="342" width="1" height="21" fill="#fff" /><rect x="712" y="335" width="1" height="7" fill="#000" /><rect x="712" y="374" width="1" height="8" fill="#000" /><rect x="711" y="342" width="3" height="33" fill="#000" /><rect x="716" y="356" width="1" height="18" fill="#000" /><rect x="716" y="375" width="1" height="13" fill="#000" /><rect x="715" y="374" width="3" height="2" fill="#000" /><rect x="721" y="346" width="1" height="2" fill="#000" /><rect x="721" y="374" width="1" height="12" fill="#000" /><rect x="720" y="348" width="3" height="27" fill="#000" /><rect x="721" y="349" width="1" height="25" fill="#fff" /><rect x="725" y="337" width="1" height="11" fill="#000" /><rect x="725" y="355" width="1" height="10" fill="#000" /><rect x="724" y="348" width="3" height="8" fill="#000" /><rect x="729" y="326" width="1" height="8" fill="#000" /><rect x="729" y="355" width="1" height="15" fill="#000" /><rect x="728" y="334" width="3" height="22" fill="#000" /><rect x="729" y="335" width="1" height="20" fill="#fff" /><rect x="733" y="327" width="1" height="7" fill="#000" /><rect x="733" y="344" width="1" height="3" fill="#000" /><rect x="732" y="334" width="3" height="11" fill="#000" /><rect x="737" y="321" width="1" height="9" fill="#000" /><rect x="736" y="330" width="3" height="15" fill="#000" /><rect x="737" y="331" width="1" height="13" fill="#fff" /><rect x="741" y="316" width="1" height="14" fill="#000" /><rect x="740" y="330" width="3" height="4" fill="#000" /><rect x="746" y="305" width="1" height="9" fill="#000" /><rect x="745" y="314" width="3" height="20" fill="#000" /><rect x="746" y="315" width="1" height="18" fill="#fff" /><rect x="750" y="307" width="1" height="7" fill="#000" /><rect x="750" y="316" width="1" height="6" fill="#000" /><rect x="749" y="314" width="3" height="3" fill="#000" /><rect x="754" y="314" width="1" height="2" fill="#000" /><rect x="754" y="324" width="1" height="13" fill="#000" /><rect x="753" y="316" width="3" height="9" fill="#000" /><rect x="758" y="319" width="1" height="5" fill="#000" /><rect x="758" y="332" width="1" height="8" fill="#000" /><rect x="757" y="324" width="3" height="9" fill="#000" /><rect x="762" y="373" width="1" height="14" fill="#000" /><rect x="761" y="331" width="3" height="43" fill="#000" /><rect x="766" y="359" width="1" height="2" fill="#000" /><rect x="766" y="373" width="1" height="10" fill="#000" /><rect x="765" y="361" width="3" height="13" fill="#000" /><rect x="766" y="362" width="1" height="11" fill="#fff" /><rect x="771" y="340" width="1" height="21" fill="#000" /><rect x="771" y="367" width="1" height="3" fill="#000" /><rect x="770" y="361" width="3" height="7" fill="#000" /><rect x="775" y="358" width="1" height="8" fill="#000" /><rect x="775" y="372" width="1" height="9" fill="#000" /><rect x="774" y="366" width="3" height="7" fill="#000" /><rect x="779" y="372" width="1" height="16" fill="#000" /><rect x="778" y="363" width="3" height="10" fill="#000" /><rect x="779" y="364" width="1" height="8" fill="#fff" /><rect x="782" y="345" width="3" height="20" fill="#000" /><rect x="783" y="346" width="1" height="18" fill="#fff" /><rect x="787" y="343" width="1" height="3" fill="#000" /><rect x="787" y="358" width="1" height="9" fill="#000" /><rect x="786" y="346" width="3" height="13" fill="#000" /><rect x="791" y="349" width="1" height="8" fill="#000" /><rect x="791" y="370" width="1" height="4" fill="#000" /><rect x="790" y="357" width="3" height="14" fill="#000" /><rect x="796" y="351" width="1" height="13" fill="#000" /><rect x="795" y="364" width="3" height="7" fill="#000" /><rect x="796" y="365" width="1" height="5" fill="#fff" /><rect x="800" y="353" width="1" height="4" fill="#000" /><rect x="800" y="364" width="1" height="19" fill="#000" /><rect x="799" y="357" width="3" height="8" fill="#000" /><rect x="800" y="358" width="1" height="6" fill="#fff" /><rect x="804" y="340" width="1" height="5" fill="#000" /><rect x="803" y="345" width="3" height="13" fill="#000" /><rect x="804" y="346" width="1" height="11" fill="#fff" /><rect x="808" y="341" width="1" height="4" fill="#000" /><rect x="808" y="360" width="1" height="3" fill="#000" /><rect x="807" y="345" width="3" height="16" fill="#000" /><rect x="812" y="340" width="1" height="6" fill="#000" /><rect x="811" y="346" width="3" height="15" fill="#000" /><rect x="812" y="347" width="1" height="13" fill="#fff" /><rect x="816" y="346" width="1" height="5" fill="#000" /><rect x="815" y="332" width="3" height="15" fill="#000" /><rect x="816" y="333" width="1" height="13" fill="#fff" /><rect x="820" y="325" width="1" height="6" fill="#000" /><rect x="820" y="333" width="1" height="3" fill="#000" /><rect x="819" y="331" width="3" height="3" fill="#000" /><rect x="825" y="325" width="1" height="3" fill="#000" /><rect x="825" y="332" width="1" height="4" fill="#000" /><rect x="824" y="328" width="3" height="5" fill="#000" /><rect x="825" y="329" width="1" height="3" fill="#fff" /><rect x="829" y="327" width="1" height="1" fill="#000" /><rect x="829" y="341" width="1" height="6" fill="#000" /><rect x="828" y="328" width="3" height="14" fill="#000" /><rect x="833" y="332" width="1" height="9" fill="#000" /><rect x="832" y="341" width="3" height="17" fill="#000" /><rect x="837" y="350" width="1" height="6" fill="#000" /><rect x="837" y="365" width="1" height="20" fill="#000" /><rect x="836" y="356" width="3" height="10" fill="#000" /><rect x="841" y="349" width="1" height="9" fill="#000" /><rect x="840" y="358" width="3" height="10" fill="#000" /><rect x="841" y="359" width="1" height="8" fill="#fff" /><rect x="845" y="343" width="1" height="15" fill="#000" /><rect x="845" y="365" width="1" height="6" fill="#000" /><rect x="844" y="358" width="3" height="8" fill="#000" /><rect x="850" y="353" width="1" height="9" fill="#000" /><rect x="850" y="365" width="1" height="3" fill="#000" /><rect x="849" y="362" width="3" height="4" fill="#000" /><rect x="850" y="363" width="1" height="2" fill="#fff" /><rect x="854" y="353" width="1" height="9" fill="#000" /><rect x="854" y="389" width="1" height="1" fill="#000" /><rect x="853" y="362" width="3" height="28" fill="#000" /><rect x="858" y="389" width="1" height="11" fill="#000" /><rect x="857" y="378" width="3" height="12" fill="#000" /><rect x="858" y="379" width="1" height="10" fill="#fff" /><rect x="862" y="360" width="1" height="6" fill="#000" /><rect x="862" y="378" width="1" height="8" fill="#000" /><rect x="861" y="366" width="3" height="13" fill="#000" /><rect x="862" y="367" width="1" height="11" fill="#fff" /><rect x="866" y="365" width="1" height="1" fill="#000" /><rect x="866" y="383" width="1" height="7" fill="#000" /><rect x="865" y="366" width="3" height="18" fill="#000" /><rect x="870" y="377" width="1" height="5" fill="#000" /><rect x="870" y="405" width="1" height="1" fill="#000" /><rect x="869" y="382" width="3" height="24" fill="#000" /><rect x="875" y="399" width="1" height="5" fill="#000" /><rect x="875" y="438" width="1" height="6" fill="#000" /><rect x="874" y="404" width="3" height="35" fill="#000" /><rect x="879" y="419" width="1" height="11" fill="#000" /><rect x="879" y="438" width="1" height="5" fill="#000" /><rect x="878" y="430" width="3" height="9" fill="#000" /><rect x="879" y="431" width="1" height="7" fill="#fff" /><rect x="883" y="424" width="1" height="3" fill="#000" /><rect x="883" y="429" width="1" height="24" fill="#000" /><rect x="882" y="427" width="3" height="3" fill="#000" /><rect x="883" y="428" width="1" height="1" fill="#fff" /><rect x="887" y="410" width="1" height="1" fill="#000" /><rect x="887" y="428" width="1" height="22" fill="#000" /><rect x="886" y="411" width="3" height="18" fill="#000" /><rect x="887" y="412" width="1" height="16" fill="#fff" /><rect x="891" y="379" width="1" height="4" fill="#000" /><rect x="891" y="412" width="1" height="1" fill="#000" /><rect x="890" y="383" width="3" height="30" fill="#000" /><rect x="891" y="384" width="1" height="28" fill="#fff" /><rect x="895" y="357" width="1" height="9" fill="#000" /><rect x="895" y="384" width="1" height="29" fill="#000" /><rect x="894" y="366" width="3" height="19" fill="#000" /><rect x="895" y="367" width="1" height="17" fill="#fff" /><rect x="900" y="350" width="1" height="6" fill="#000" /><rect x="900" y="366" width="1" height="7" fill="#000" /><rect x="899" y="356" width="3" height="11" fill="#000" /><rect x="900" y="357" width="1" height="9" fill="#fff" /><rect x="904" y="345" width="1" height="9" fill="#000" /><rect x="904" y="356" width="1" height="12" fill="#000" /><rect x="903" y="354" width="3" height="3" fill="#000" /><rect x="904" y="355" width="1" height="1" fill="#fff" /><rect x="908" y="274" width="1" height="24" fill="#000" /><rect x="907" y="298" width="3" height="58" fill="#000" /><rect x="908" y="299" width="1" height="56" fill="#fff" /><rect x="912" y="261" width="1" height="8" fill="#000" /><rect x="912" y="298" width="1" height="12" fill="#000" /><rect x="911" y="269" width="3" height="30" fill="#000" /><rect x="912" y="270" width="1" height="28" fill="#fff" /><rect x="916" y="242" width="1" height="5" fill="#000" /><rect x="916" y="270" width="1" height="5" fill="#000" /><rect x="915" y="247" width="3" height="24" fill="#000" /><rect x="916" y="248" width="1" height="22" fill="#fff" /><rect x="920" y="268" width="1" height="6" fill="#000" /><rect x="919" y="247" width="3" height="22" fill="#000" /><rect x="924" y="252" width="1" height="3" fill="#000" /><rect x="924" y="268" width="1" height="8" fill="#000" /><rect x="923" y="255" width="3" height="14" fill="#000" /><rect x="924" y="256" width="1" height="12" fill="#fff" /><rect x="929" y="227" width="1" height="10" fill="#000" /><rect x="929" y="255" width="1" height="3" fill="#000" /><rect x="928" y="237" width="3" height="19" fill="#000" /><rect x="929" y="238" width="1" height="17" fill="#fff" /><rect x="933" y="236" width="1" height="1" fill="#000" /><rect x="933" y="255" width="1" height="8" fill="#000" /><rect x="932" y="237" width="3" height="19" fill="#000" /><rect x="937" y="243" width="1" height="11" fill="#000" /><rect x="937" y="261" width="1" height="3" fill="#000" /><rect x="936" y="254" width="3" height="8" fill="#000" /><rect x="941" y="249" width="1" height="8" fill="#000" /><rect x="941" y="261" width="1" height="3" fill="#000" /><rect x="940" y="257" width="3" height="5" fill="#000" /><rect x="941" y="258" width="1" height="3" fill="#fff" /><rect x="945" y="244" width="1" height="1" fill="#000" /><rect x="945" y="257" width="1" height="4" fill="#000" /><rect x="944" y="245" width="3" height="13" fill="#000" /><rect x="945" y="246" width="1" height="11" fill="#fff" /><rect x="949" y="252" width="1" height="8" fill="#000" /><rect x="948" y="245" width="3" height="8" fill="#000" /><rect x="953" y="229" width="3" height="24" fill="#000" /><rect x="954" y="230" width="1" height="22" fill="#fff" /><rect x="958" y="222" width="1" height="7" fill="#000" /><rect x="958" y="243" width="1" height="5" fill="#000" /><rect x="957" y="229" width="3" height="15" fill="#000" /><rect x="962" y="239" width="1" height="4" fill="#000" /><rect x="962" y="255" width="1" height="1" fill="#000" /><rect x="961" y="243" width="3" height="13" fill="#000" /><rect x="966" y="254" width="1" height="11" fill="#000" /><rect x="965" y="238" width="3" height="17" fill="#000" /><rect x="966" y="239" width="1" height="15" fill="#fff" /><rect x="970" y="236" width="1" height="3" fill="#000" /><rect x="970" y="274" width="1" height="5" fill="#000" /><rect x="969" y="239" width="3" height="36" fill="#000" /><rect x="974" y="243" width="1" height="1" fill="#000" /><rect x="974" y="275" width="1" height="1" fill="#000" /><rect x="973" y="244" width="3" height="32" fill="#000" /><rect x="974" y="245" width="1" height="30" fill="#fff" /><rect x="979" y="226" width="1" height="5" fill="#000" /><rect x="979" y="244" width="1" height="9" fill="#000" /><rect x="978" y="231" width="3" height="14" fill="#000" /><rect x="979" y="232" width="1" height="12" fill="#fff" /><rect x="983" y="218" width="1" height="5" fill="#000" /><rect x="983" y="231" width="1" height="6" fill="#000" /><rect x="982" y="223" width="3" height="9" fill="#000" /><rect x="983" y="224" width="1" height="7" fill="#fff" /><rect x="987" y="203" width="1" height="6" fill="#000" /><rect x="987" y="223" width="1" height="1" fill="#000" /><rect x="986" y="209" width="3" height="15" fill="#000" /><rect x="987" y="210" width="1" height="13" fill="#fff" /><rect x="991" y="196" width="1" height="13" fill="#000" /><rect x="991" y="215" width="1" height="2" fill="#000" /><rect x="990" y="209" width="3" height="7" fill="#000" /><rect x="995" y="215" width="1" height="1" fill="#000" /><rect x="994" y="202" width="3" height="14" fill="#000" /><rect x="995" y="203" width="1" height="12" fill="#fff" /><rect x="999" y="191" width="1" height="10" fill="#000" /><rect x="999" y="202" width="1" height="8" fill="#000" /><rect x="998" y="201" width="3" height="2" fill="#000" /><rect x="1004" y="187" width="1" height="10" fill="#000" /><rect x="1004" y="201" width="1" height="5" fill="#000" /><rect x="1003" y="197" width="3" height="5" fill="#000" /><rect x="1004" y="198" width="1" height="3" fill="#fff" /><rect x="1008" y="193" width="1" height="4" fill="#000" /><rect x="1008" y="204" width="1" height="12" fill="#000" /><rect x="1007" y="197" width="3" height="8" fill="#000" /><rect x="1012" y="197" width="1" height="7" fill="#000" /><rect x="1012" y="216" width="1" height="2" fill="#000" /><rect x="1011" y="204" width="3" height="13" fill="#000" /><rect x="1016" y="205" width="1" height="4" fill="#000" /><rect x="1016" y="216" width="1" height="7" fill="#000" /><rect x="1015" y="209" width="3" height="8" fill="#000" /><rect x="1016" y="210" width="1" height="6" fill="#fff" /><rect x="1020" y="197" width="1" height="6" fill="#000" /><rect x="1020" y="209" width="1" height="4" fill="#000" /><rect x="1019" y="203" width="3" height="7" fill="#000" /><rect x="1020" y="204" width="1" height="5" fill="#fff" /><rect x="1024" y="195" width="1" height="7" fill="#000" /><rect x="1024" y="207" width="1" height="3" fill="#000" /><rect x="1023" y="202" width="3" height="6" fill="#000" /><rect x="1028" y="194" width="1" height="12" fill="#000" /><rect x="1028" y="215" width="1" height="5" fill="#000" /><rect x="1027" y="206" width="3" height="10" fill="#000" /><rect x="1033" y="238" width="1" height="26" fill="#000" /><rect x="1032" y="215" width="3" height="24" fill="#000" /><rect x="1037" y="227" width="1" height="3" fill="#000" /><rect x="1037" y="238" width="1" height="12" fill="#000" /><rect x="1036" y="230" width="3" height="9" fill="#000" /><rect x="1037" y="231" width="1" height="7" fill="#fff" /><rect x="1041" y="214" width="1" height="1" fill="#000" /><rect x="1041" y="230" width="1" height="9" fill="#000" /><rect x="1040" y="215" width="3" height="16" fill="#000" /><rect x="1041" y="216" width="1" height="14" fill="#fff" /><rect x="1045" y="211" width="1" height="4" fill="#000" /><rect x="1045" y="218" width="1" height="7" fill="#000" /><rect x="1044" y="215" width="3" height="4" fill="#000" /><rect x="1049" y="203" width="1" height="5" fill="#000" /><rect x="1049" y="218" width="1" height="5" fill="#000" /><rect x="1048" y="208" width="3" height="11" fill="#000" /><rect x="1049" y="209" width="1" height="9" fill="#fff" /><rect x="1053" y="178" width="1" height="20" fill="#000" /><rect x="1052" y="198" width="3" height="11" fill="#000" /><rect x="1053" y="199" width="1" height="9" fill="#fff" /><rect x="1058" y="191" width="1" height="7" fill="#000" /><rect x="1058" y="217" width="1" height="3" fill="#000" /><rect x="1057" y="198" width="3" height="20" fill="#000" /><rect x="1062" y="212" width="1" height="4" fill="#000" /><rect x="1062" y="223" width="1" height="11" fill="#000" /><rect x="1061" y="216" width="3" height="8" fill="#000" /><rect x="1066" y="181" width="1" height="25" fill="#000" /><rect x="1066" y="223" width="1" height="6" fill="#000" /><rect x="1065" y="206" width="3" height="18" fill="#000" /><rect x="1066" y="207" width="1" height="16" fill="#fff" /><rect x="1070" y="185" width="1" height="5" fill="#000" /><rect x="1070" y="206" width="1" height="10" fill="#000" /><rect x="1069" y="190" width="3" height="17" fill="#000" /><rect x="1070" y="191" width="1" height="15" fill="#fff" /><rect x="1074" y="135" width="1" height="4" fill="#000" /><rect x="1074" y="190" width="1" height="6" fill="#000" /><rect x="1073" y="139" width="3" height="52" fill="#000" /><rect x="1074" y="140" width="1" height="50" fill="#fff" /><rect x="1078" y="113" width="1" height="23" fill="#000" /><rect x="1078" y="139" width="1" height="13" fill="#000" /><rect x="1077" y="136" width="3" height="4" fill="#000" /><rect x="1078" y="137" width="1" height="2" fill="#fff" /><rect x="1083" y="123" width="1" height="3" fill="#000" /><rect x="1083" y="136" width="1" height="6" fill="#000" /><rect x="1082" y="126" width="3" height="11" fill="#000" /><rect x="1083" y="127" width="1" height="9" fill="#fff" /><rect x="1087" y="151" width="1" height="7" fill="#000" /><rect x="1086" y="126" width="3" height="26" fill="#000" /><rect x="1091" y="144" width="1" height="7" fill="#000" /><rect x="1091" y="158" width="1" height="11" fill="#000" /><rect x="1090" y="151" width="3" height="8" fill="#000" /><rect x="1095" y="157" width="1" height="1" fill="#000" /><rect x="1095" y="163" width="1" height="2" fill="#000" /><rect x="1094" y="158" width="3" height="6" fill="#000" /><rect x="1099" y="147" width="1" height="4" fill="#000" /><rect x="1099" y="163" width="1" height="2" fill="#000" /><rect x="1098" y="151" width="3" height="13" fill="#000" /><rect x="1099" y="152" width="1" height="11" fill="#fff" /><rect x="1103" y="149" width="1" height="2" fill="#000" /><rect x="1103" y="172" width="1" height="7" fill="#000" /><rect x="1102" y="151" width="3" height="22" fill="#000" /><rect x="1108" y="163" width="1" height="2" fill="#000" /><rect x="1108" y="173" width="1" height="1" fill="#000" /><rect x="1107" y="165" width="3" height="9" fill="#000" /><rect x="1108" y="166" width="1" height="7" fill="#fff" /><rect x="1112" y="158" width="1" height="6" fill="#000" /><rect x="1112" y="165" width="1" height="9" fill="#000" /><rect x="1111" y="164" width="3" height="2" fill="#000" /><rect x="1116" y="157" width="1" height="6" fill="#000" /><rect x="1116" y="166" width="1" height="9" fill="#000" /><rect x="1115" y="163" width="3" height="4" fill="#000" /><rect x="1116" y="164" width="1" height="2" fill="#fff" /><rect x="1120" y="154" width="1" height="9" fill="#000" /><rect x="1120" y="167" width="1" height="5" fill="#000" /><rect x="1119" y="163" width="3" height="5" fill="#000" /><rect x="1124" y="164" width="1" height="2" fill="#000" /><rect x="1124" y="174" width="1" height="10" fill="#000" /><rect x="1123" y="166" width="3" height="9" fill="#000" /><rect x="1128" y="169" width="1" height="5" fill="#000" /><rect x="1128" y="181" width="1" height="14" fill="#000" /><rect x="1127" y="174" width="3" height="8" fill="#000" /><rect x="1132" y="173" width="1" height="7" fill="#000" /><rect x="1132" y="183" width="1" height="9" fill="#000" /><rect x="1131" y="180" width="3" height="4" fill="#000" /><rect x="1137" y="180" width="1" height="3" fill="#000" /><rect x="1137" y="221" width="1" height="11" fill="#000" /><rect x="1136" y="183" width="3" height="39" fill="#000" /><rect x="1141" y="208" width="1" height="11" fill="#000" /><rect x="1141" y="220" width="1" height="15" fill="#000" /><rect x="1140" y="219" width="3" height="2" fill="#000" /><rect x="1144" y="218" width="3" height="37" fill="#000" /><rect x="1149" y="254" width="1" height="10" fill="#000" /><rect x="1148" y="221" width="3" height="34" fill="#000" /><rect x="1149" y="222" width="1" height="32" fill="#fff" /><rect x="1153" y="209" width="1" height="1" fill="#000" /><rect x="1153" y="222" width="1" height="3" fill="#000" /><rect x="1152" y="210" width="3" height="13" fill="#000" /><rect x="1153" y="211" width="1" height="11" fill="#fff" /><rect x="1157" y="203" width="1" height="8" fill="#000" /><rect x="1157" y="212" width="1" height="10" fill="#000" /><rect x="1156" y="211" width="3" height="2" fill="#000" /><rect x="1162" y="208" width="1" height="2" fill="#000" /><rect x="1162" y="219" width="1" height="6" fill="#000" /><rect x="1161" y="210" width="3" height="10" fill="#000" /><rect x="1166" y="215" width="1" height="1" fill="#000" /><rect x="1166" y="217" width="1" height="13" fill="#000" /><rect x="1165" y="216" width="3" height="2" fill="#000" /><rect x="1170" y="203" width="1" height="9" fill="#000" /><rect x="1170" y="219" width="1" height="1" fill="#000" /><rect x="1169" y="212" width="3" height="8" fill="#000" /><rect x="1170" y="213" width="1" height="6" fill="#fff" /><rect x="1174" y="206" width="1" height="1" fill="#000" /><rect x="1174" y="211" width="1" height="10" fill="#000" /><rect x="1173" y="207" width="3" height="5" fill="#000" /><rect x="1174" y="208" width="1" height="3" fill="#fff" /><rect x="1178" y="201" width="1" height="6" fill="#000" /><rect x="1178" y="215" width="1" height="9" fill="#000" /><rect x="1177" y="207" width="3" height="9" fill="#000" /><rect x="1182" y="209" width="1" height="5" fill="#000" /><rect x="1182" y="215" width="1" height="5" fill="#000" /><rect x="1181" y="214" width="3" height="2" fill="#000" /><rect x="1187" y="215" width="1" height="8" fill="#000" /><rect x="1186" y="192" width="3" height="24" fill="#000" /><rect x="1187" y="193" width="1" height="22" fill="#fff" /><rect x="1191" y="155" width="1" height="4" fill="#000" /><rect x="1190" y="159" width="3" height="34" fill="#000" /><rect x="1191" y="160" width="1" height="32" fill="#fff" /><rect x="1195" y="150" width="1" height="9" fill="#000" /><rect x="1195" y="163" width="1" height="3" fill="#000" /><rect x="1194" y="159" width="3" height="5" fill="#000" /><rect x="1199" y="157" width="1" height="6" fill="#000" /><rect x="1199" y="170" width="1" height="4" fill="#000" /><rect x="1198" y="163" width="3" height="8" fill="#000" /><rect x="1203" y="167" width="1" height="2" fill="#000" /><rect x="1203" y="191" width="1" height="7" fill="#000" /><rect x="1202" y="169" width="3" height="23" fill="#000" /><rect x="1207" y="185" width="1" height="5" fill="#000" /><rect x="1207" y="196" width="1" height="5" fill="#000" /><rect x="1206" y="190" width="3" height="7" fill="#000" /><rect x="1212" y="190" width="1" height="4" fill="#000" /><rect x="1212" y="195" width="1" height="14" fill="#000" /><rect x="1211" y="194" width="3" height="2" fill="#000" /><rect x="1216" y="179" width="1" height="13" fill="#000" /><rect x="1216" y="198" width="1" height="9" fill="#000" /><rect x="1215" y="192" width="3" height="7" fill="#000" /><rect x="1216" y="193" width="1" height="5" fill="#fff" /><rect x="1220" y="177" width="1" height="1" fill="#000" /><rect x="1220" y="191" width="1" height="14" fill="#000" /><rect x="1219" y="178" width="3" height="14" fill="#000" /><rect x="1220" y="179" width="1" height="12" fill="#fff" /><rect x="1224" y="173" width="1" height="5" fill="#000" /><rect x="1224" y="202" width="1" height="1" fill="#000" /><rect x="1223" y="178" width="3" height="25" fill="#000" /><rect x="1228" y="185" width="1" height="16" fill="#000" /><rect x="1228" y="222" width="1" height="6" fill="#000" /><rect x="1227" y="201" width="3" height="22" fill="#000" /><rect x="1232" y="209" width="1" height="5" fill="#000" /><rect x="1231" y="214" width="3" height="9" fill="#000" /><rect x="1232" y="215" width="1" height="7" fill="#fff" /></g><g clip-path="url(#mainclip)" fill="none"><line x1="903.7" y1="372.9" x2="1265.3" y2="212.2" stroke="#a0a0a0" stroke-width="1"/></g><line x1="2" y1="214.5" x2="1553" y2="214.5" stroke="#fff" stroke-width="1" stroke-dasharray="1 2" shape-rendering="crispEdges"/><g shape-rendering="crispEdges"><rect x="1099" y="148" width="454" height="1" fill="#00ff00" /><rect x="1224" y="172" width="329" height="1" fill="#00ff00" /><rect x="1229" y="229" width="324" height="1" fill="#0000ff" /><rect x="1037" y="263" width="516" height="1" fill="#0000ff" /></g><g clip-path="url(#rsiclip)"><path d="M1.5,681.0 L5.5,670.9 L9.5,665.2 L13.5,685.6 L18.5,670.9 L22.5,665.7 L26.5,667.9 L30.5,670.9 L34.5,655.0 L38.5,667.5 L43.5,693.5 L47.5,708.2 L51.5,710.0 L55.5,714.9 L59.5,756.8 L63.5,724.0 L67.5,726.9 L72.5,737.5 L76.5,772.6 L80.5,753.4 L84.5,720.6 L88.5,704.8 L92.5,699.6 L97.5,716.7 L101.5,711.5 L105.5,702.5 L109.5,689.4 L113.5,712.2 L117.5,721.3 L122.5,717.6 L126.5,724.0 L130.5,705.4 L134.5,708.6 L138.5,718.3 L142.5,770.3 L147.5,789.5 L151.5,792.9 L155.5,814.4 L159.5,804.2 L163.5,794.1 L167.5,800.8 L171.5,752.2 L176.5,773.7 L180.5,787.3 L184.5,815.5 L188.5,771.4 L192.5,787.3 L196.5,804.2 L201.5,769.2 L205.5,789.1 L209.5,773.7 L213.5,778.2 L217.5,771.9 L221.5,777.8 L226.5,777.8 L230.5,740.9 L234.5,730.3 L238.5,718.3 L242.5,736.4 L246.5,728.0 L251.5,728.0 L255.5,738.7 L259.5,729.6 L263.5,734.8 L267.5,717.2 L271.5,718.3 L275.5,710.4 L280.5,699.1 L284.5,699.1 L288.5,704.1 L292.5,722.4 L296.5,709.3 L300.5,701.4 L305.5,708.6 L309.5,715.4 L313.5,704.1 L317.5,705.9 L321.5,701.8 L325.5,696.4 L330.5,689.6 L334.5,669.3 L338.5,703.2 L342.5,710.9 L346.5,706.6 L350.5,704.8 L355.5,705.0 L359.5,694.1 L363.5,686.7 L367.5,691.2 L371.5,700.2 L375.5,701.8 L379.5,712.2 L384.5,709.3 L388.5,679.2 L392.5,694.6 L396.5,681.0 L400.5,688.9 L404.5,687.8 L409.5,679.9 L413.5,684.4 L417.5,670.2 L421.5,667.9 L425.5,681.0 L429.5,671.5 L434.5,666.3 L438.5,650.5 L442.5,658.0 L446.5,646.7 L450.5,642.2 L454.5,674.2 L459.5,681.0 L463.5,722.8 L467.5,705.9 L471.5,701.4 L475.5,690.5 L479.5,692.3 L483.5,695.7 L488.5,699.1 L492.5,686.7 L496.5,687.4 L500.5,710.4 L504.5,698.7 L508.5,707.0 L513.5,694.6 L517.5,704.8 L521.5,705.4 L525.5,694.6 L529.5,705.4 L533.5,687.4 L538.5,709.3 L542.5,704.8 L546.5,722.8 L550.5,711.5 L554.5,716.7 L558.5,700.0 L563.5,685.1 L567.5,692.8 L571.5,687.4 L575.5,692.3 L579.5,696.4 L583.5,703.2 L588.5,711.5 L592.5,724.0 L596.5,717.6 L600.5,722.2 L604.5,710.4 L608.5,730.3 L612.5,762.0 L617.5,725.8 L621.5,721.3 L625.5,716.7 L629.5,718.3 L633.5,719.5 L637.5,713.8 L642.5,699.1 L646.5,676.5 L650.5,694.6 L654.5,722.2 L658.5,705.9 L662.5,713.8 L667.5,713.1 L671.5,724.0 L675.5,724.4 L679.5,704.8 L683.5,715.4 L687.5,714.5 L692.5,724.0 L696.5,729.6 L700.5,736.4 L704.5,749.3 L708.5,725.8 L712.5,750.0 L716.5,750.0 L721.5,721.7 L725.5,727.4 L729.5,706.3 L733.5,714.5 L737.5,703.2 L741.5,704.1 L746.5,687.4 L750.5,690.5 L754.5,698.0 L758.5,705.9 L762.5,742.1 L766.5,731.2 L771.5,734.2 L775.5,738.0 L779.5,729.0 L783.5,710.0 L787.5,720.6 L791.5,731.2 L796.5,725.1 L800.5,717.6 L804.5,704.1 L808.5,717.6 L812.5,703.6 L816.5,689.6 L820.5,687.8 L825.5,685.1 L829.5,701.4 L833.5,717.6 L837.5,728.0 L841.5,719.5 L845.5,724.4 L850.5,722.8 L854.5,749.3 L858.5,734.2 L862.5,719.5 L866.5,734.2 L870.5,752.2 L875.5,775.5 L879.5,764.7 L883.5,762.4 L887.5,740.9 L891.5,710.4 L895.5,695.7 L900.5,686.7 L904.5,685.1 L908.5,646.7 L912.5,632.4 L916.5,623.4 L920.5,643.1 L924.5,637.0 L929.5,630.2 L933.5,647.6 L937.5,655.0 L941.5,652.8 L945.5,645.3 L949.5,655.0 L954.5,642.2 L958.5,657.3 L962.5,668.6 L966.5,658.9 L970.5,691.9 L974.5,672.4 L979.5,665.2 L983.5,660.0 L987.5,652.3 L991.5,658.4 L995.5,651.7 L999.5,650.5 L1004.5,648.3 L1008.5,657.3 L1012.5,671.5 L1016.5,665.9 L1020.5,660.7 L1024.5,665.7 L1028.5,677.7 L1033.5,703.7 L1037.5,696.9 L1041.5,681.5 L1045.5,685.6 L1049.5,676.5 L1053.5,667.5 L1058.5,689.0 L1062.5,697.3 L1066.5,682.2 L1070.5,667.5 L1074.5,634.0 L1078.5,631.8 L1083.5,626.8 L1087.5,657.3 L1091.5,665.2 L1095.5,669.3 L1099.5,662.5 L1103.5,685.6 L1108.5,679.5 L1112.5,679.5 L1116.5,677.7 L1120.5,681.5 L1124.5,693.5 L1128.5,700.3 L1132.5,704.1 L1137.5,743.9 L1141.5,740.5 L1145.5,768.1 L1149.5,730.8 L1153.5,717.9 L1157.5,717.9 L1162.5,724.7 L1166.5,725.1 L1170.5,717.7 L1174.5,712.2 L1178.5,720.6 L1182.5,719.0 L1187.5,692.3 L1191.5,662.5 L1195.5,667.0 L1199.5,675.4 L1203.5,700.9 L1207.5,708.9 L1212.5,708.6 L1216.5,700.9 L1220.5,686.7 L1224.5,711.5 L1228.5,731.9 L1232.5,724.0" fill="none" stroke="#9c27b0" stroke-width="1.2" stroke-linejoin="round"/></g><g shape-rendering="crispEdges"><rect x="1" y="6" width="1615" height="1" fill="#50535e" /><rect x="1" y="6" width="1" height="850" fill="#50535e" /><rect x="1615" y="6" width="1" height="850" fill="#50535e" /><rect x="1553" y="6" width="1" height="850" fill="#50535e" /><rect x="1" y="611" width="1615" height="1" fill="#50535e" /><rect x="1" y="827" width="1615" height="1" fill="#50535e" /><rect x="1" y="855" width="1615" height="1" fill="#50535e" /></g><g font-family='"Liberation Sans", sans-serif' font-size="11" fill="#50535e"><rect x="1553" y="12" width="5" height="1" fill="#50535e" shape-rendering="crispEdges"/><text x="1563" y="16" textLength="32.5" lengthAdjust="spacingAndGlyphs">7400.0</text><rect x="1553" y="58" width="5" height="1" fill="#50535e" shape-rendering="crispEdges"/><text x="1563" y="62" textLength="32.5" lengthAdjust="spacingAndGlyphs">7200.0</text><rect x="1553" y="104" width="5" height="1" fill="#50535e" shape-rendering="crispEdges"/><text x="1563" y="108" textLength="32.5" lengthAdjust="spacingAndGlyphs">7000.0</text><rect x="1553" y="150" width="5" height="1" fill="#50535e" shape-rendering="crispEdges"/><text x="1563" y="154" textLength="32.5" lengthAdjust="spacingAndGlyphs">6800.0</text><rect x="1553" y="196" width="5" height="1" fill="#50535e" shape-rendering="crispEdges"/><text x="1563" y="200" textLength="32.5" lengthAdjust="spacingAndGlyphs">6600.0</text><rect x="1553" y="242" width="5" height="1" fill="#50535e" shape-rendering="crispEdges"/><text x="1563" y="246" textLength="32.5" lengthAdjust="spacingAndGlyphs">6400.0</text><rect x="1553" y="288" width="5" height="1" fill="#50535e" shape-rendering="crispEdges"/><text x="1563" y="292" textLength="32.5" lengthAdjust="spacingAndGlyphs">6200.0</text><rect x="1553" y="334" width="5" height="1" fill="#50535e" shape-rendering="crispEdges"/><text x="1563" y="338" textLength="32.5" lengthAdjust="spacingAndGlyphs">6000.0</text><rect x="1553" y="380" width="5" height="1" fill="#50535e" shape-rendering="crispEdges"/><text x="1563" y="384" textLength="32.5" lengthAdjust="spacingAndGlyphs">5800.0</text><rect x="1553" y="426" width="5" height="1" fill="#50535e" shape-rendering="crispEdges"/><text x="1563" y="430" textLength="32.5" lengthAdjust="spacingAndGlyphs">5600.0</text><rect x="1553" y="472" width="5" height="1" fill="#50535e" shape-rendering="crispEdges"/><text x="1563" y="476" textLength="32.5" lengthAdjust="spacingAndGlyphs">5400.0</text><rect x="1553" y="519" width="5" height="1" fill="#50535e" shape-rendering="crispEdges"/><text x="1563" y="523" textLength="32.5" lengthAdjust="spacingAndGlyphs">5200.0</text><rect x="1553" y="565" width="5" height="1" fill="#50535e" shape-rendering="crispEdges"/><text x="1563" y="569" textLength="32.5" lengthAdjust="spacingAndGlyphs">5000.0</text><rect x="1553" y="635" width="5" height="1" fill="#50535e" shape-rendering="crispEdges"/><text x="1563" y="639" textLength="26.5" lengthAdjust="spacingAndGlyphs">70.00</text><rect x="1553" y="670" width="5" height="1" fill="#50535e" shape-rendering="crispEdges"/><text x="1563" y="674" textLength="26.5" lengthAdjust="spacingAndGlyphs">60.00</text><rect x="1553" y="705" width="5" height="1" fill="#50535e" shape-rendering="crispEdges"/><text x="1563" y="709" textLength="26.5" lengthAdjust="spacingAndGlyphs">50.00</text><rect x="1553" y="740" width="5" height="1" fill="#50535e" shape-rendering="crispEdges"/><text x="1563" y="744" textLength="26.5" lengthAdjust="spacingAndGlyphs">40.00</text><rect x="1553" y="775" width="5" height="1" fill="#50535e" shape-rendering="crispEdges"/><text x="1563" y="779" textLength="26.5" lengthAdjust="spacingAndGlyphs">30.00</text><rect x="1553" y="809" width="5" height="1" fill="#50535e" shape-rendering="crispEdges"/><text x="1563" y="813" textLength="26.5" lengthAdjust="spacingAndGlyphs">20.00</text></g><rect x="1570.5" y="13.5" width="27" height="16" rx="3" fill="#fff" stroke="#d1d4dc" stroke-width="1"/><text x="1584" y="25.3" font-family='"Liberation Sans", sans-serif' font-size="10.5" fill="#50535e" text-anchor="middle">GBP</text><rect x="1553" y="206" width="62" height="28" fill="#fff" /><rect x="1553" y="214" width="5" height="1" fill="#000" shape-rendering="crispEdges"/><text x="1563" y="219" font-family='"Liberation Sans", sans-serif' font-size="11" fill="#000" stroke="#000" stroke-width="0.25" textLength="32.2" lengthAdjust="spacingAndGlyphs">6524.5</text><text x="1564" y="231.8" font-family='"Liberation Sans", sans-serif' font-size="11" fill="#6a6d78" textLength="41.3" lengthAdjust="spacingAndGlyphs">15:20:28</text><path d="M1553,140 H1599 a2,2 0 0 1 2,2 V155 a2,2 0 0 1 -2,2 H1553 Z" fill="#00ff00"/><rect x="1553" y="148" width="5" height="1" fill="#131722" shape-rendering="crispEdges"/><text x="1563" y="152.5" font-family='"Liberation Sans", sans-serif' font-size="11" font-weight="normal" fill="#131722" textLength="32.2" lengthAdjust="spacingAndGlyphs">6810.3</text><path d="M1553,164 H1599 a2,2 0 0 1 2,2 V179 a2,2 0 0 1 -2,2 H1553 Z" fill="#00ff00"/><rect x="1553" y="172" width="5" height="1" fill="#131722" shape-rendering="crispEdges"/><text x="1563" y="176.5" font-family='"Liberation Sans", sans-serif' font-size="11" font-weight="normal" fill="#131722" textLength="32.2" lengthAdjust="spacingAndGlyphs">6705.0</text><path d="M1553,234 H1599 a2,2 0 0 1 2,2 V249 a2,2 0 0 1 -2,2 H1553 Z" fill="#0000ff"/><rect x="1553" y="242" width="5" height="1" fill="#ffffff" shape-rendering="crispEdges"/><text x="1563" y="246.5" font-family='"Liberation Sans", sans-serif' font-size="11" font-weight="bold" fill="#ffffff" textLength="32.2" lengthAdjust="spacingAndGlyphs">6457.4</text><path d="M1553,255 H1599 a2,2 0 0 1 2,2 V270 a2,2 0 0 1 -2,2 H1553 Z" fill="#0000ff"/><rect x="1553" y="263" width="5" height="1" fill="#ffffff" shape-rendering="crispEdges"/><text x="1563" y="267.5" font-family='"Liberation Sans", sans-serif' font-size="11" font-weight="bold" fill="#ffffff" textLength="32.2" lengthAdjust="spacingAndGlyphs">6309.7</text><g font-family='"Liberation Sans", sans-serif' font-size="11" fill="#50535e" text-anchor="middle"><rect x="80" y="827" width="1" height="4" fill="#50535e" shape-rendering="crispEdges"/><text x="80.5" y="844">Feb</text><rect x="163" y="827" width="1" height="4" fill="#50535e" shape-rendering="crispEdges"/><text x="163.5" y="844">Mar</text><rect x="255" y="827" width="1" height="4" fill="#50535e" shape-rendering="crispEdges"/><text x="255.5" y="844">Apr</text><rect x="342" y="827" width="1" height="4" fill="#50535e" shape-rendering="crispEdges"/><text x="342.5" y="844">May</text><rect x="429" y="827" width="1" height="4" fill="#50535e" shape-rendering="crispEdges"/><text x="429.5" y="844">Jun</text><rect x="521" y="827" width="1" height="4" fill="#50535e" shape-rendering="crispEdges"/><text x="521.5" y="844">Jul</text><rect x="617" y="827" width="1" height="4" fill="#50535e" shape-rendering="crispEdges"/><text x="617.5" y="844">Aug</text><rect x="704" y="827" width="1" height="4" fill="#50535e" shape-rendering="crispEdges"/><text x="704.5" y="844">Sep</text><rect x="796" y="827" width="1" height="4" fill="#50535e" shape-rendering="crispEdges"/><text x="796.5" y="844">Oct</text><rect x="887" y="827" width="1" height="4" fill="#50535e" shape-rendering="crispEdges"/><text x="887.5" y="844">Nov</text><rect x="974" y="827" width="1" height="4" fill="#50535e" shape-rendering="crispEdges"/><text x="974.5" y="844">Dec</text><rect x="1066" y="827" width="1" height="4" fill="#50535e" shape-rendering="crispEdges"/><text x="1066.5" y="844" font-weight="bold">2021</text><rect x="1149" y="827" width="1" height="4" fill="#50535e" shape-rendering="crispEdges"/><text x="1149.5" y="844">Feb</text><rect x="1232" y="827" width="1" height="4" fill="#50535e" shape-rendering="crispEdges"/><text x="1232.5" y="844">Mar</text><rect x="1361" y="827" width="1" height="4" fill="#50535e" shape-rendering="crispEdges"/><text x="1361.5" y="844">Apr</text><rect x="1486" y="827" width="1" height="4" fill="#50535e" shape-rendering="crispEdges"/><text x="1486.5" y="844">May</text></g><g font-family='"Liberation Sans", sans-serif' fill="#4e525e"><text x="10.8" y="27.6" font-size="12" font-weight="bold" textLength="162.3" lengthAdjust="spacingAndGlyphs">UK 100 CFD, 1D, FOREX.com</text><text x="10.8" y="45" font-size="12.3" textLength="92.4" lengthAdjust="spacingAndGlyphs">MA (50, close, 0)</text><text x="10.8" y="61.6" font-size="12.3" textLength="99.6" lengthAdjust="spacingAndGlyphs">MA (100, close, 0)</text><text x="10.8" y="633" font-size="13" textLength="76.4" lengthAdjust="spacingAndGlyphs">RSI (14, close)</text></g><rect x="1167" y="461" width="299" height="71" fill="#1a232b"/><g fill="none" stroke-linecap="round" stroke-linejoin="round" stroke-width="4.3"><path d="M1211.4,484.6 A14.5,14.5 0 1 0 1211.4,507.4" stroke="#fff"/><path d="M1223.8,482.3 V510.2" stroke="#fff"/><path d="M1234.3,482 H1257.5 M1245.8,482 V510.2" stroke="#fff"/><path d="M1264.4,482.4 L1275.8,497.5 L1287.3,482.4 M1275.8,497.5 V510.2" stroke="#fff"/><path d="M1311.8,482.3 V510.2" stroke="#f3ee1a"/><path d="M1325.4,510.2 V482.3 L1347.6,510.2 V482.3" stroke="#f3ee1a"/><path d="M1361.9,482.3 H1370.5 A13.95,13.95 0 0 1 1370.5,510.2 H1361.9 Z" stroke="#f3ee1a"/><path d="M1415.6,482.3 H1396.4 V510.2 H1415.6 M1396.4,495.9 H1410.6" stroke="#f3ee1a"/><path d="M1426.3,482.3 L1447.8,510.2 M1447.8,482.3 L1426.3,510.2" stroke="#f3ee1a"/></g><defs><clipPath id="icl"><path d="M1232,586.6 A10.4,10.4 0 0 0 1232,607.4 H1249 A10.4,10.4 0 0 0 1259.4,597 H1237 V586.6 Z"/></clipPath></defs><g clip-path="url(#icl)"><rect x="1220" y="585" width="42" height="25" fill="#f4f4f8"/><rect x="1221" y="586" width="16" height="22" fill="#3e4fb0"/><path d="M1221,586 L1237,608 M1237,586 L1221,608" stroke="#fff" stroke-width="3"/><path d="M1221,586 L1237,608 M1237,586 L1221,608" stroke="#e8506a" stroke-width="1"/><path d="M1220,597.5 H1262 M1231,585 V609" stroke="#fff" stroke-width="3.2"/><path d="M1220,597.5 H1262 M1231,585 V609" stroke="#ee5a72" stroke-width="1.8"/><rect x="1237" y="599" width="24" height="10" fill="#f2557a"/><path d="M1238,599.5 l5,8 M1242,599.5 l5,8 M1246,599.5 l5,8 M1250,599.5 l5,8 M1254,599.5 l5,8" stroke="#4a55b5" stroke-width="1.2"/></g><path d="M1237.5,585.4 H1232.5 A11.6,11.6 0 0 0 1232.5,608.6 H1249 A11.6,11.6 0 0 0 1260.6,597" fill="none" stroke="#f39c24" stroke-width="1.4"/><path d="M1236,587 A10,10 0 0 0 1236,607" fill="none" stroke="#f39c24" stroke-width="0.9" opacity="0.6"/><path d="M1243,608 A10,10 0 0 0 1248,598" fill="none" stroke="#f39c24" stroke-width="0.8" opacity="0.6"/><text x="1238.6" y="593.2" font-family='"Liberation Sans", sans-serif' font-size="10.5" fill="#111">2</text><path d="M1246,586.5 h1 M1249.5,586.5 h1 M1253,586.5 h1 M1256,586.5 h1" stroke="#bbb" stroke-width="0.8"/><g fill="#2196f3"><circle cx="12.6" cy="873.5" r="7.5"/><circle cx="5.6" cy="876.2" r="4.6"/><circle cx="21.6" cy="875.6" r="5.4"/><rect x="1" y="875.5" width="26" height="5.5" rx="2.7"/></g><path d="M2.3,878.6 L10.9,871.6 L17,877.4 L22.9,871.2" fill="none" stroke="#fff" stroke-width="1.3"/><circle cx="10.9" cy="871.6" r="1.6" fill="#fff"/><circle cx="17" cy="877.4" r="1.6" fill="#fff"/><text x="29.3" y="878.2" font-family='"Liberation Sans", sans-serif' font-size="13.5" fill="#131722" textLength="70" lengthAdjust="spacingAndGlyphs">TradingView</text></svg>
</body></html>
